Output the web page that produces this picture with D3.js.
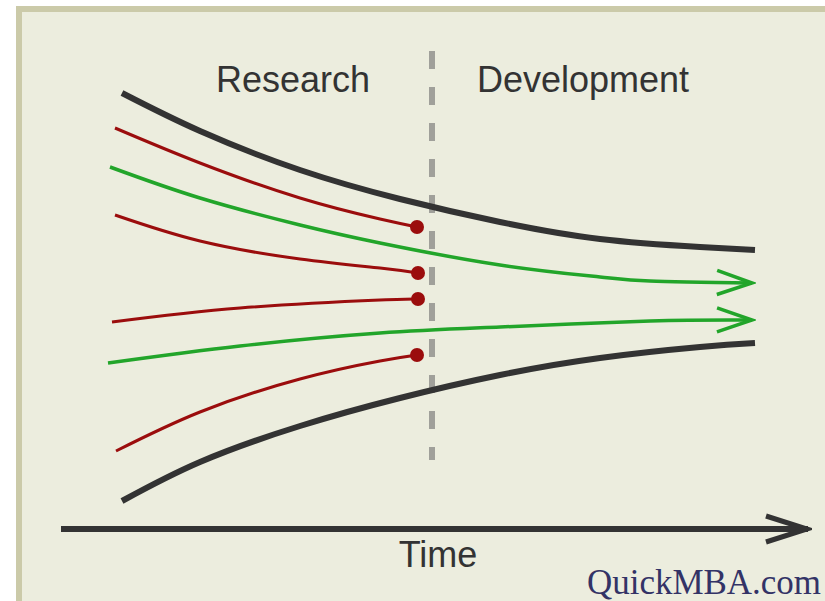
<!DOCTYPE html>
<html><head><meta charset="utf-8">
<script src="https://cdn.jsdelivr.net/npm/d3@7"></script>
<style>html,body{margin:0;padding:0;background:#fff;overflow:hidden}svg{display:block}</style>
</head><body>
<script>
// ---- data (x = time units, y = spread units) ----
const phaseLabels = ["Research", "Development"];
const phaseBoundary = 371;
const axisLabel = "Time";
const creditLabel = "QuickMBA.com";
const blackTop = [[61,436],[139,398],[239,359],[339,330],[439,307],[539,290],[639,282],[694,279]];
const blackBottom = [[61,28],[139,67],[239,103],[339,131],[439,154],[539,171],[639,182],[694,186]];
const redPaths = [
  [[54,401],[139,366],[239,331],[319,310],[356,302]],
  [[54,314],[139,288],[239,270],[319,261],[357,256]],
  [[51,207],[179,221],[319,229],[357,230]],
  [[55,78],[139,117],[239,150],[319,168],[356,174]]
];
const greenPaths = [
  [[49,362],[139,331],[239,304],[319,286],[439,264],[539,252],[589,248],[691,246]],
  [[47,166],[179,183],[319,196],[439,202],[589,208],[691,209]]
];
const timeDomain = [0, 749];
const spreadDomain = [0, 500];

const W = 825, H = 601;
const svg = d3.select("body").append("svg").attr("width", W).attr("height", H);
const x = d3.scaleLinear().domain(timeDomain).range([61, 810]);
const y = d3.scaleLinear().domain(spreadDomain).range([529, 29]);

// frame
svg.append("rect").attr("x",16).attr("y",6).attr("width",W).attr("height",H).attr("fill","#cbcaa9");
svg.append("rect").attr("x",22).attr("y",12).attr("width",W).attr("height",H).attr("fill","#ecedde");

const defs = svg.append("defs");
defs.append("marker").attr("id","garrow").attr("markerUnits","userSpaceOnUse")
  .attr("viewBox","-40 -15 44 30").attr("refX",0).attr("refY",0)
  .attr("markerWidth",44).attr("markerHeight",30).attr("orient","auto")
  .append("path").attr("d","M-35,-12 L0,0 L-35,12").attr("fill","none")
  .attr("stroke","#22a52a").attr("stroke-width",3.5);
defs.append("marker").attr("id","karrow").attr("markerUnits","userSpaceOnUse")
  .attr("viewBox","-46 -18 50 36").attr("refX",0).attr("refY",0)
  .attr("markerWidth",50).attr("markerHeight",36).attr("orient","auto")
  .append("path").attr("d","M-42,-13 L-1,0 L-42,13").attr("fill","none")
  .attr("stroke","#333333").attr("stroke-width",5);

// divider
svg.append("line").attr("x1",x(phaseBoundary)).attr("x2",x(phaseBoundary))
  .attr("y1",y(478)).attr("y2",y(69))
  .attr("stroke","#a0a09a").attr("stroke-width",6).attr("stroke-dasharray","18 18");

const line = d3.line().x(d=>x(d[0])).y(d=>y(d[1])).curve(d3.curveNatural);

[blackTop, blackBottom].forEach(p=>{
  svg.append("path").attr("d",line(p)).attr("fill","none").attr("stroke","#333333").attr("stroke-width",6);
});
redPaths.forEach(p=>{
  svg.append("path").attr("d",line(p)).attr("fill","none").attr("stroke","#9b0d0d").attr("stroke-width",3);
});
greenPaths.forEach(p=>{
  svg.append("path").attr("d",line(p)).attr("fill","none").attr("stroke","#22a52a").attr("stroke-width",3.5)
    .attr("marker-end","url(#garrow)");
});
svg.selectAll("circle.dot").data(redPaths.map(p=>p[p.length-1])).enter().append("circle")
  .attr("class","dot").attr("cx",d=>x(d[0])).attr("cy",d=>y(d[1])).attr("r",7).attr("fill","#9b0d0d");

// time axis
svg.append("line").attr("x1",x(timeDomain[0])).attr("x2",x(timeDomain[1])-2)
  .attr("y1",y(0)).attr("y2",y(0)).attr("stroke","#333333").attr("stroke-width",6)
  .attr("marker-end","url(#karrow)");

// labels
const font = "'Liberation Sans', Arial, sans-serif";
svg.append("text").attr("x",x(232)).attr("y",92).attr("text-anchor","middle")
  .attr("font-family",font).attr("font-size",36).attr("fill","#333").text(phaseLabels[0]);
svg.append("text").attr("x",x(522)).attr("y",92).attr("text-anchor","middle")
  .attr("font-family",font).attr("font-size",36).attr("fill","#333").text(phaseLabels[1]);
svg.append("text").attr("x",x(377)).attr("y",567).attr("text-anchor","middle")
  .attr("font-family",font).attr("font-size",36).attr("fill","#333").text(axisLabel);
svg.append("text").attr("x",587).attr("y",594)
  .attr("font-family","'Liberation Serif', 'Times New Roman', serif").attr("font-size",35)
  .attr("textLength",234).attr("lengthAdjust","spacingAndGlyphs")
  .attr("fill","#333366").text(creditLabel);
</script>
</body></html>
